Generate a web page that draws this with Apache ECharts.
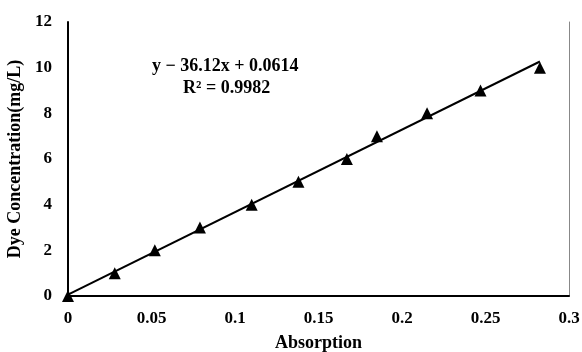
<!DOCTYPE html>
<html>
<head>
<meta charset="utf-8">
<script src="https://cdn.jsdelivr.net/npm/echarts@6/dist/echarts.min.js"></script>
<style>
  html, body { margin: 0; padding: 0; background: #fff; }
  #chart { width: 582px; height: 352px; }
</style>
</head>
<body>
<div id="chart"></div>
<script>
// measured points (absorption, concentration)
const absorption = [0, 0.028, 0.052, 0.079, 0.110, 0.138, 0.167, 0.185, 0.215, 0.247, 0.2826];
const concentration = [0, 1, 2, 3, 4, 5, 6, 7, 8, 9, 10];
// trendline end points
const trendX = [0, 0.2826];
const trendY = [0.0614, 10.27];
const eqText = 'y − 36.12x + 0.0614';
const r2Text = 'R² = 0.9982';

const font = 'Liberation Serif';
const chart = echarts.init(document.getElementById('chart'));

const option = {
  animation: false,
  grid: { left: 68, right: 13, top: 22, bottom: 56, outerBoundsMode: 'none' },
  xAxis: {
    type: 'value', min: 0, max: 0.3, interval: 0.05,
    name: 'Absorption', nameLocation: 'middle', nameGap: 38,
    nameTextStyle: { fontFamily: font, fontWeight: 'bold', fontSize: 18, color: '#000' },
    axisLine: { show: true, onZero: false, lineStyle: { color: '#000', width: 2 } },
    axisTick: { show: false },
    splitLine: { show: false },
    axisLabel: { fontFamily: font, fontWeight: 'bold', fontSize: 17, color: '#000', margin: 14,
      formatter: v => String(+v.toFixed(2)) }
  },
  yAxis: [{
    type: 'value', min: 0, max: 12, interval: 2,
    name: 'Dye Concentration(mg/L)', nameLocation: 'middle', nameGap: 39, nameRotate: 90,
    nameTextStyle: { fontFamily: font, fontWeight: 'bold', fontSize: 18, color: '#000' },
    axisLine: { show: true, lineStyle: { color: '#000', width: 2 } },
    axisTick: { show: false },
    splitLine: { show: false },
    axisLabel: { fontFamily: font, fontWeight: 'bold', fontSize: 17, color: '#000', margin: 16 }
  }, {
    type: 'value', min: 0, max: 12, interval: 2, position: 'right',
    axisLine: { show: true, lineStyle: { color: '#888', width: 1 } },
    axisTick: { show: false }, axisLabel: { show: false }, splitLine: { show: false }
  }],
  series: [{
    type: 'line',
    data: trendX.map((x, i) => [x, trendY[i]]),
    showSymbol: false,
    lineStyle: { color: '#000', width: 2 },
    z: 2
  }, {
    type: 'scatter',
    data: absorption.map((x, i) => [x, concentration[i]]),
    symbol: 'triangle', symbolSize: 12,
    itemStyle: { color: '#000', opacity: 1 },
    z: 3
  }],
  graphic: [{
    type: 'text', left: 152, top: 57,
    style: { text: eqText, fontFamily: font, fontWeight: 'bold', fontSize: 18, fill: '#000' }
  }, {
    type: 'text', left: 183, top: 79,
    style: { text: r2Text, fontFamily: font, fontWeight: 'bold', fontSize: 18, fill: '#000' }
  }]
};
chart.setOption(option);
</script>
</body>
</html>
